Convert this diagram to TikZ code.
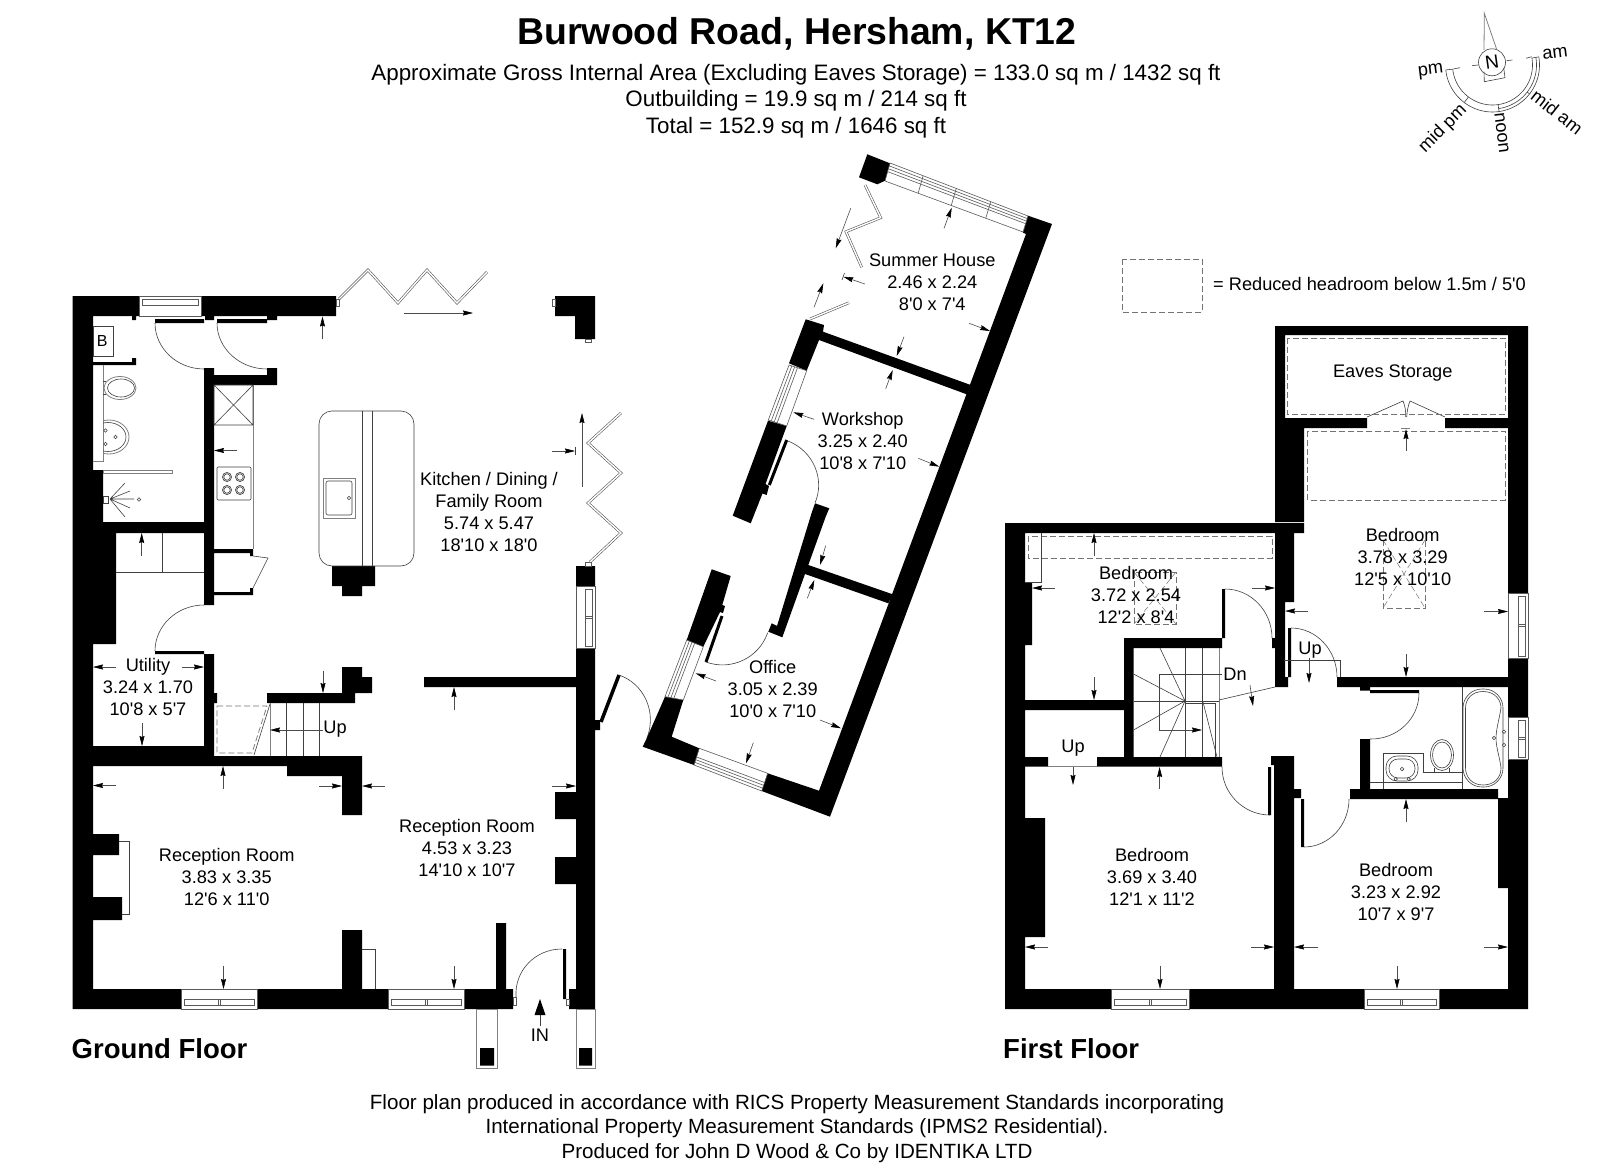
\documentclass[tikz,border=0pt]{standalone}
\usepackage{fontspec}
\newfontfamily\plainf{Liberation Sans}
\setmainfont{Liberation Sans}
\AtBeginDocument{\plainf}
\usetikzlibrary{arrows.meta,calc}
\newcommand{\swing}[3]{\draw[ln] (#2) .. controls ($(#2)+0.55*(#3)-0.55*(#1)$) and ($(#3)+0.55*(#2)-0.55*(#1)$) .. (#3);}
\newcommand{\winB}[2]{\draw[win] (#1,989) rectangle (#2,1009);
 \draw[win] ({#1+3},999) rectangle ({#2-3},1005);
 \draw[win] ({(#1+#2)/2-1},999) rectangle ({(#1+#2)/2+1},1005);}
\newcommand{\winV}[6]{\draw[win] (#1,#3) rectangle (#2,#4);
 \draw[win] (#5,{#3+3}) rectangle (#6,{#4-2});
 \draw[win] (#5,{(#3+#4)/2-1}) rectangle (#6,{(#3+#4)/2+1});}
\newcommand{\winR}[4]{\draw[win] (#1)--(#2)--(#3)--(#4)--cycle;
 \foreach \t in {0.16,0.32,0.48}{\draw[win] ($(#1)!\t!(#4)$)--($(#2)!\t!(#3)$);}}
\tikzset{
 wall/.style={fill=black,draw=none},
 ln/.style={draw=black!75,line width=.6pt},
 gl/.style={draw=black!50,line width=.8pt},
 win/.style={draw=black!65,line width=.6pt},
 dsh/.style={draw=black!55,line width=.7pt,dash pattern=on 6pt off 3pt},
 dim/.style={draw=black!70,line width=.6pt,-{Stealth[length=10pt,width=5pt,inset=1pt,color=black]}},
 room/.style={font=\fontsize{18.2}{22}\selectfont,align=center,inner sep=0pt,text=black},
 head/.style={font=\fontsize{22.35}{26.5}\selectfont,align=center,inner sep=0pt},
 foot/.style={font=\fontsize{20.6}{24.5}\selectfont,align=center,inner sep=0pt},
 floorname/.style={font=\fontsize{27.5}{34}\selectfont\bfseries,inner sep=0pt},
}
\begin{document}
\begin{tikzpicture}[x=1pt,y=-1pt]
\useasboundingbox (0,0) rectangle (1600,1169);
\fill[white] (0,0) rectangle (1600,1169);

% ---------- titles
\node[inner sep=0pt,font=\fontsize{37.4}{46}\selectfont\bfseries] (title) at (797,34) {Burwood Road, Hersham, KT12};
\node[head] (sub) at (796,101) {Approximate Gross Internal Area (Excluding Eaves Storage) = 133.0 sq m / 1432 sq ft\\Outbuilding = 19.9 sq m / 214 sq ft\\Total = 152.9 sq m / 1646 sq ft};
\node[foot] (footer) at (797,1128.5) {Floor plan produced in accordance with RICS Property Measurement Standards incorporating\\International Property Measurement Standards (IPMS2 Residential).\\Produced for John D Wood \& Co by IDENTIKA LTD};
\node[floorname,anchor=west] (gf) at (71.5,1049) {Ground Floor};
\node[floorname,anchor=west] (ff) at (1003,1049) {First Floor};

% ---------- ground floor walls
\fill[wall]
 (72.5,296) rectangle (139,316) (201,296) rectangle (336,316) (72.5,296) rectangle (93,1009)
 (132,316) rectangle (136,320) (205,316) rectangle (214,320) (267,316) rectangle (277,320)
 (155,319) rectangle (204,323) (217,319) rectangle (267,323)
 (204,368) rectangle (214,605) (204,375) rectangle (277,385) (267,368) rectangle (277,375)
 (93,362) rectangle (136,365) (132,358) rectangle (136,365)
 (72.5,470) rectangle (103,522) (72.5,522) rectangle (214,533) (72.5,533) rectangle (116,644)
 (214,549) rectangle (253,553) (250,553) rectangle (253,556)
 (214,592) rectangle (253,595) (250,588) rectangle (253,595)
 (155,651) rectangle (204,654) (204,654) rectangle (214,756) (214,693) rectangle (217,703)
 (72.5,746) rectangle (214,756) (72.5,756) rectangle (362,766) (287,766) rectangle (362,776) (342,776) rectangle (362,815)
 (267,693) rectangle (355,703) (342,667) rectangle (362,677) (342,677) rectangle (372,693) (342,693) rectangle (355,703)
 (93,834) rectangle (119,855) (93,897) rectangle (122,920)
 (342,930) rectangle (362,989) (496,923) rectangle (506,989)
 (72.5,989) rectangle (181,1009) (257,989) rectangle (388,1009) (464,989) rectangle (513,1009) (569,989) rectangle (595,1009)
 (563,949) rectangle (566,999)
 (576,648) rectangle (595,989) (576,566) rectangle (595,586) (424,677) rectangle (576,687) (595,720) rectangle (600,730)
 (555,792) rectangle (576,819) (555,857) rectangle (576,884)
 (555,296) rectangle (595,316) (575,316) rectangle (595,339)
 (332,566) rectangle (375,586) (342,586) rectangle (362,596)
 (480,1048) rectangle (494,1065.5) (579,1048) rectangle (592,1065.5);
\draw[line width=3.5pt] (601,722)--(619,675);

% ground floor windows
\draw[win] (139,296) rectangle (201,316) (142,299) rectangle (198,305);
\winB{181}{257}
\winB{388}{464}
\winV{576}{595}{586}{648}{585}{592}

% ground floor doors
\swing{204,323}{155,323}{204,369}
\swing{267,323}{217,323}{267,369}
\swing{204,651}{155,651}{204,605}
\swing{565,997}{562,949}{516,997}
\swing{601,722}{619,675}{647,738}
\draw[win] (513,997) rectangle (516,1005) (566,999) rectangle (569,1005);

% folding doors
\draw[win,line width=2.6pt] (339,299)--(368,270)--(398,303)--(427,270)--(457,303)--(487,272);
\draw[white,line width=1.4pt] (339,299)--(368,270)--(398,303)--(427,270)--(457,303)--(487,272);
\draw[win,line width=2.6pt] (590,562)--(621,533)--(588,503)--(621,473)--(588,443)--(621,413);
\draw[white,line width=1.4pt] (590,562)--(621,533)--(588,503)--(621,473)--(588,443)--(621,413);
\draw[win] (336,299) rectangle (339,306) (552,299) rectangle (555,306) (585,339) rectangle (591,342) (585,562) rectangle (591,566);

% kitchen
\draw[gl] (253,385)--(253,549);
\draw[ln] (214,385) rectangle (253,425) (214,385)--(253,425) (253,385)--(214,425);
\draw[ln,rounded corners=1pt] (217,467) rectangle (251,500);
\foreach \a/\b in {227/477,240/477,227/490,240/490}{\draw[ln] (\a,\b) circle[radius=4.6pt] (\a,\b) circle[radius=3.2pt];}
\draw[ln] (253,556)--(268,558)--(253,588);
\draw[ln] (162,533)--(162,572) (116,572)--(204,572);
% island
\draw[ln,rounded corners=13pt] (319,411) rectangle (414,566);
\draw[ln] (362,411)--(362,566) (372,411)--(372,566);
\draw[gl] (323,478) rectangle (355.5,518);
\draw[ln,rounded corners=2pt] (326,481) rectangle (352,515);
\draw[ln] (349,498) circle[radius=1.7pt];

% WC
\draw[ln] (93,326) rectangle (113,356);
\node[inner sep=0pt,font=\fontsize{16}{18}\selectfont] (boiler) at (102.3,341) {B};
\draw[gl,line width=.7pt] (103,365)--(103,461)--(93,461);
\draw[gl] (120,388) ellipse[x radius=16pt,y radius=11.5pt];
\draw[ln,fill=white] (121,388) ellipse[x radius=13.5pt,y radius=9pt];
\draw[ln] (103,381)--(106,381) (103,394)--(106,394);
\begin{scope}
\clip (103,410) rectangle (140,460);
\draw[gl] (109,437) ellipse[x radius=20pt,y radius=17pt];
\draw[ln] (108,437) ellipse[x radius=18pt,y radius=14.5pt];
\end{scope}
\draw[ln] (105.5,430.5) circle[radius=1.8pt] (105.5,444) circle[radius=1.8pt] (115.5,437) circle[radius=1.8pt];
\draw[gl,line width=.6pt] (103,470) rectangle (172,473);
\draw[ln] (103,496) rectangle (108,503);
\draw[ln] (110,499)--(125,483) (110,499)--(130,491) (110,499)--(134,499) (110,499)--(130,508) (110,499)--(125,517);
\draw[ln] (139,499.5) circle[radius=1.7pt];

% stairs ground
\draw[gl] (270,703)--(270,756);
\draw[ln] (286,703)--(286,756) (303,703)--(303,756) (319,703)--(319,756);
\draw[dsh] (217,706)--(267,706)--(252,753)--(217,753)--cycle;
\draw[ln] (270,704)--(254,755);
% fireplace etc
\draw[ln] (119,841)--(129,841)--(129,914)--(122,914);
\draw[ln] (362,949)--(375,949)--(375,989);
% porch
\draw[gl] (476,1009) rectangle (497,1068) (576,1009) rectangle (595,1068);

% ground floor dimension arrows
\foreach \a/\b/\c/\d in {322.5/339/322.5/316.5,237/450.5/214/450.5,141.7/556/141.7/533,116/667/93/667,182/667/204/667,142/723/142/746,223/789/223/766,116/785.5/93/785.5,319/786/342/786,385/786/362/786,323/670.5/323/693,323/730/270/730,223.5/966/223.5/989,454/966/454/989,454/710/454/687,552/786/576/786,404/313/473/313,582/487/582/413,552/451/575/451}
 {\draw[dim] (\a,\b)--(\c,\d);}
\draw[ln] (575.5,447)--(575.5,455);
% IN
\fill (540,999)--(534.5,1015)--(545.5,1015)--cycle;
\draw[ln] (540,1015)--(540,1026);
\node[room] (in) at (540,1035) {IN};

% ground floor labels
\node[room] (kitchen) at (489,512) {Kitchen / Dining /\\Family Room\\5.74 x 5.47\\18'10 x 18'0};
\node[room] (utility) at (148,687) {Utility\\3.24 x 1.70\\10'8 x 5'7};
\node[room] (rec1) at (226.7,877) {Reception Room\\3.83 x 3.35\\12'6 x 11'0};
\node[room] (rec2) at (467,848) {Reception Room\\4.53 x 3.23\\14'10 x 10'7};
\node[room] (upg) at (335,729) {Up};

% ---------- outbuilding walls
\fill[wall] (867.3,154.3)--(890,163.3)--(885,180.7)--(877.3,184.3)--(859,177.3)--cycle;
\fill[wall] (1028,215.7)--(1052,224)--(830,816.7)--(761.7,791)--(767.7,773.3)--(819,790.7)--(1026,234)--(1023,232.7)--cycle;
\fill[wall] (805.7,319.3)--(824,325)--(823,331.7)--(970.7,385)--(966.7,394.3)--(819,340)--(806.7,370.7)--(789,363.3)--cycle;
\fill[wall] (768,420.7)--(786.7,426)--(765.5,484)--(769,486)--(766.7,495)--(762.5,493.5)--(750.7,523.3)--(732.7,515.7)--cycle;
\fill[wall] (815,503.3)--(829.3,508.3)--(825.7,516.7)--(808.3,565)--(892.7,594.3)--(888.3,603.3)--(805,574)--(782.3,637.3)--(768.3,631.7)--(771.7,623.3)--(777,626)--(811.7,512.7)--cycle;
\fill[wall] (711.7,569.3)--(730.7,576)--(722.3,605)--(725,606)--(723,613)--(720,612)--(703.3,646.7)--(686.7,640)--cycle;
\fill[wall] (642.7,746.7)--(694,765)--(699.3,748.3)--(671.7,736.7)--(683.3,700)--(665,696.7)--(646.7,738.3)--cycle;
\draw[line width=3pt] (786.7,440)--(769.3,485) (722,616)--(706,662);
% outbuilding windows
\winR{890,163}{1028,216}{1023,232}{885,181}
\foreach \t in {0.24,0.48,0.73}{\draw[win] ($(890,163)!\t!(1028,216)$)--($(885,181)!\t!(1023,232)$);}
\winR{768.3,420}{789,365}{806.7,370.7}{786.7,426}
\winR{665,696.7}{686.7,640}{703.3,646.7}{683.3,700}
\winR{694,765}{761.7,791}{767.7,773.3}{699.3,748.3}
% doors
\swing{769.3,485}{788,441}{815,503}
\swing{722,616}{706,662}{767.7,632.7}
\draw[win,line width=2.6pt] (865,185)--(880.7,217.7)--(846,231.7)--(861.7,267.3);
\draw[white,line width=1.4pt] (865,185)--(880.7,217.7)--(846,231.7)--(861.7,267.3);
\draw[win,line width=2.6pt] (810,319)--(849,302.7);
\draw[white,line width=1.4pt] (810,319)--(849,302.7);
\foreach \a/\b/\c/\d in {850.7/208.3/835.7/248.3,814/307.3/823.3/283.3,865/284/843.3/276.7,944/228.3/951.7/207.7,969/323.3/990/331,904/336.7/896.7/356,885.7/388.7/892.7/370,814/419.3/793.3/412.3,918.3/458.3/939.3/466.7,825.7/545.7/820/565,807.3/598.3/814.3/580,716/681/695.7/673.3,820/720/841/728.3,753.3/742.7/746/763.3}
 {\draw[dim] (\a,\b)--(\c,\d);}
\draw[ln] (844.5,273)--(842,280);
\node[room] (summer) at (932.3,282.7) {Summer House\\2.46 x 2.24\\8'0 x 7'4};
\node[room] (workshop) at (862.7,440.7) {Workshop\\3.25 x 2.40\\10'8 x 7'10};
\node[room] (office) at (772.7,689) {Office\\3.05 x 2.39\\10'0 x 7'10};

% ---------- key
\draw[dsh] (1122,259) rectangle (1202,312);
\node[room,anchor=west] (key) at (1213,284) {= Reduced headroom below 1.5m / 5'0};

% ---------- first floor walls
\fill[wall]
 (1005,523) rectangle (1304,533) (1005,523) rectangle (1025,1009)
 (1025,582) rectangle (1032,645) (1025,818) rectangle (1045,937)
 (1005,700) rectangle (1124,710) (1124,638) rectangle (1222,648) (1124,638) rectangle (1133.5,757)
 (1005,757) rectangle (1048,766.7) (1097,757) rectangle (1222,766.7)
 (1222,589) rectangle (1225,638) (1272,638) rectangle (1275,648)
 (1275,533) rectangle (1294,602) (1275,602) rectangle (1285,677) (1275,677) rectangle (1288,687)
 (1288,628) rectangle (1291,677)
 (1275,326) rectangle (1285,428) (1275,326) rectangle (1528,335) (1275,428) rectangle (1304,522)
 (1275,418) rectangle (1367,428) (1445,418) rectangle (1508,428)
 (1508,335) rectangle (1528,593) (1508,658) rectangle (1528,717) (1508,759) rectangle (1528,1009) (1498,798) rectangle (1528,888)
 (1337,677) rectangle (1508,687) (1360,687) rectangle (1370,690.5) (1370,690) rectangle (1419,693)
 (1360,739) rectangle (1370,789) (1350,789) rectangle (1498,799)
 (1271,756) rectangle (1294,765) (1274,756) rectangle (1294,1009) (1294,789) rectangle (1301,798) (1301,799) rectangle (1304,847) (1268,767) rectangle (1271,815)
 (1005,989) rectangle (1111,1009) (1189,989) rectangle (1364,1009) (1439,989) rectangle (1528,1009);
\winB{1111}{1189}
\winB{1364}{1439}
\winV{1508}{1528}{593}{658}{1518}{1525}
\winV{1508}{1528}{717}{759}{1518}{1525}
% doors
\swing{1225,638}{1225,589}{1272,638}
\swing{1291,677}{1291,628}{1337,677}
\swing{1270,767}{1222,767}{1270,815}
\swing{1304,799}{1304,847}{1349,799}
\swing{1370,692}{1419,693}{1370,739}
\draw[ln] (1367,417)--(1403,401) .. controls (1405,406) and (1406,411) .. (1405.7,417);
\draw[ln] (1445,417)--(1410,401) .. controls (1408,406) and (1407,411) .. (1406.7,417);
% dashed reduced-headroom areas
\draw[dsh] (1028,536) rectangle (1272,558);
\draw[dsh] (1287,338) rectangle (1505,414);
\draw[dsh] (1307.7,431) rectangle (1505,500);
\draw[dsh] (1383,540) rectangle (1425,608);
\draw[dsh,line width=.5pt] (1383,540)--(1425,608) (1425,540)--(1383,608);
\draw[dsh] (1134,572) rectangle (1176,624);
\draw[dsh,line width=.5pt] (1134,572)--(1176,624) (1176,572)--(1134,624);
\draw[ln] (1041,533)--(1041,582)--(1025,582);
% stairs
\draw[gl] (1219,648)--(1219,757) (1048,766)--(1097,766);
\draw[ln] (1185,648)--(1185,757) (1202.7,648)--(1202.7,757);
\draw[ln] (1133.5,701.5)--(1219,701.5);
\draw[ln] (1185,701)--(1160,648) (1185,701)--(1133.5,674) (1185,701)--(1133.5,730) (1185,701)--(1160,757) (1203,702)--(1217,757);
\draw[ln] (1185,703)--(1215.7,703)--(1215.7,757);
\draw[ln] (1222,674)--(1159,674)--(1159,730)--(1185,730);
\draw[dim] (1159,730)--(1202,730);
\draw[ln] (1219,700)--(1275,687);
\draw[ln] (1284,660.5)--(1340,660.5)--(1340,677);
% bath
\draw[ln] (1462,687)--(1462,789);
\draw[ln,rounded corners=19pt] (1463,689) rectangle (1503,787);
\draw[ln] (1483,691.5) .. controls (1495,691.5) and (1501,700) .. (1501,708) .. controls (1499,720) and (1496,730) .. (1496,738) .. controls (1496,748) and (1500,758) .. (1501,768) .. controls (1501,778) and (1494,785) .. (1483,785) .. controls (1472,785) and (1465.5,777) .. (1465.5,768) -- (1465.5,708) .. controls (1465.5,699) and (1472,691.5) .. (1483,691.5);
\draw[ln,fill=white] (1504,731.7) circle[radius=1.7pt] (1504,745) circle[radius=1.7pt] (1494,738) circle[radius=1.7pt];
% basin unit
\draw[ln] (1383,789)--(1383,753)--(1423,753)--(1423,772)--(1462,772) (1370,782)--(1462,782);
\draw[ln,rounded corners=11pt] (1386,756) rectangle (1418,781);
\draw[ln,rounded corners=9pt] (1389,759) rectangle (1415,778);
\draw[ln] (1402,769) circle[radius=1.8pt] (1395.7,779) circle[radius=1.7pt] (1408.7,779) circle[radius=1.7pt];
\draw[ln] (1442,755) ellipse[x radius=11.5pt,y radius=15.5pt] (1442,755) ellipse[x radius=9.5pt,y radius=13pt];
\draw[ln] (1434,768)--(1434,772) (1449,768)--(1449,772);
% first floor dimension arrows
\foreach \a/\b/\c/\d in {1094/556/1094/533,1055/588/1032/588,1252/588/1275/588,1094/677/1094/700,1159.6/789/1159.6/767,1073/767/1073/785,1309/658/1309/683,1250/685/1253/706,1406/654/1406/677,1406/822/1406/799,1308/611/1285/611,1484/611.5/1508/611.5,1406/451/1406/429,1048/947/1025/947,1251/947/1274/947,1160/966/1160/989,1318/947/1294/947,1484/947/1508/947,1397/966/1397/989}
 {\draw[dim] (\a,\b)--(\c,\d);}
\draw[gl] (1401,428.5)--(1410,428.5);
% first floor labels
\node[room] (bed1) at (1136,595) {Bedroom\\3.72 x 2.54\\12'2 x 8'4};
\node[room] (bed2) at (1402.7,557) {Bedroom\\3.78 x 3.29\\12'5 x 10'10};
\node[room] (bed3) at (1152,877) {Bedroom\\3.69 x 3.40\\12'1 x 11'2};
\node[room] (bed4) at (1396,892) {Bedroom\\3.23 x 2.92\\10'7 x 9'7};
\node[room] (eaves) at (1392.7,373) {Eaves Storage};
\node[room] (up1) at (1073,748) {Up};
\node[room] (up2) at (1310,650) {Up};
\node[room] (dn) at (1235,674) {Dn};

% ---------- compass
\draw[ln,fill=white] (1492,62.3) circle[radius=13.5pt];
\node[inner sep=0pt,font=\fontsize{19}{22}\selectfont,rotate=8] (north) at (1492,62.3) {N};
\draw[gl] (1484,50)--(1484.3,13.3)--(1496.7,49.5);
\draw[ln] (1484,71.7)--(1484.3,81.7)--(1505,77.7)--(1503.7,68);
\draw[ln] (1472,65.7)--(1478,65) (1506.7,60.7)--(1512.3,60);
\draw[ln] (1453.3,69)--(1460,67.7) (1526,58.3)--(1531.7,56.7);
\foreach \r in {40,47}{\draw[ln] plot[domain=-10:174,samples=60,smooth] ({1492.5+\r*cos(\x)},{65+\r*sin(\x)});}
\draw[ln] plot[domain=-10:82,samples=30,smooth] ({1492.5+44*cos(\x)},{65+44*sin(\x)});
\draw[ln] ({1492.5+40*cos(-10)},{65+40*sin(-10)})--({1492.5+47*cos(-10)},{65+47*sin(-10)});
\draw[ln] ({1492.5+40*cos(174)},{65+40*sin(174)})--({1492.5+47*cos(174)},{65+47*sin(174)});
\draw[ln] ({1492.5+40*cos(82)},{65+40*sin(82)})--({1492.5+47*cos(82)},{65+47*sin(82)});
\draw[ln] ({1492.5+40*cos(127)},{65+40*sin(127)})--({1492.5+47*cos(127)},{65+47*sin(127)});
\draw[ln] ({1492.5+44*cos(38)},{65+44*sin(38)})--({1492.5+47*cos(38)},{65+47*sin(38)});
\node[room,rotate=7] (lam) at (1555,53.3) {am};
\node[room,rotate=7] (lpm) at (1430.7,71.7) {pm};
\node[room,rotate=45] (lmpm) at (1443,129) {mid pm};
\node[room,rotate=-83] (lnoon) at (1501.7,133) {noon};
\node[room,rotate=-38] (lmam) at (1557,112) {mid am};
\end{tikzpicture}
\end{document}
